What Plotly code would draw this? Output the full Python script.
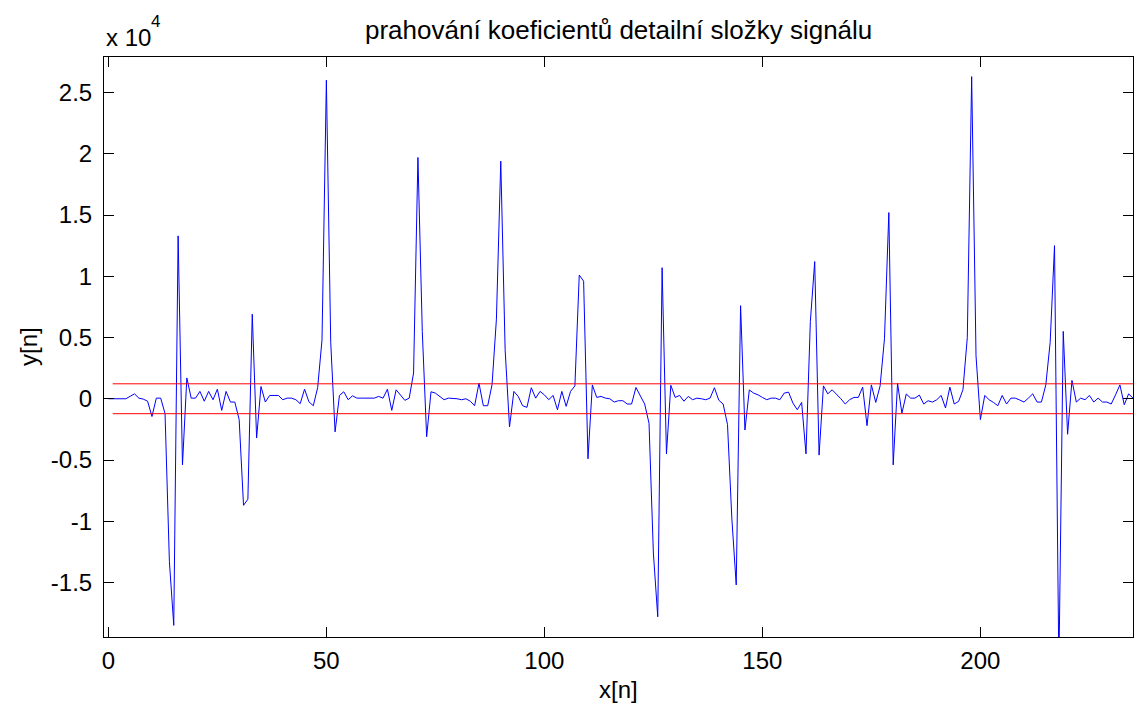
import plotly.graph_objects as go

# sample index and detail coefficient values
n_idx = list(range(0, 236))
y_vals = [
    0, 0, 0, 0, 0, 200, 400, 50, -30, -200,
    -1450, 50, 50, -1200, -13300, -18500, 13300, -5400, 1700, 50,
    50, 600, -200, 600, -80, 780, -950, 600, -270, -270,
    -1700, -8700, -8200, 6900, -3200, 1000, -270, 270, 270, 270,
    -80, 50, 50, -80, -400, 780, -250, -570, 900, 4800,
    26000, 4600, -2700, 270, 570, -80, 240, 50, 50, 50,
    50, 50, 190, 50, 780, -950, 730, 320, -130, 50,
    2100, 19700, 5500, -3100, 570, 460, 190, -80, 50, 50,
    0, -80, 0, -200, -570, 1270, -570, -570, 1150, 6500,
    19400, 4000, -2300, 600, 190, -570, -700, 900, 50, 600,
    320, -80, 270, -900, 600, -620, 600, 1050, 10100, 9600,
    -4900, 1130, 110, 190, 50, 0, -270, -160, -160, -430,
    -430, 920, 190, -430, -2000, -12600, -17800, 10700, -4500, 1100,
    110, 270, -200, 190, -80, 50, 0, -80, 50, 900,
    -120, -430, -2100, -9800, -15200, 7600, -2550, 720, 460, 320,
    110, -80, 50, 50, -80, 460, 540, -350, -900, -300,
    -4500, 6300, 11200, -4600, 1050, 400, 730, 380, 0, -430,
    -80, 110, 110, 950, -2200, 1130, -300, 1050, 4900, 15200,
    -5400, 1260, -1180, 390, 50, 50, 300, -430, -160, -270,
    -80, 270, -750, 950, -430, -220, 730, 5000, 26300, 3500,
    -1700, 270, -80, -300, -570, 270, -430, 50, 50, -100,
    -270, 50, 400, -270, -270, 1130, 4600, 12500, -22000, 5500,
    -2900, 1500, -270, 50, -80, 270, -270, 50, -270, -270,
    -430, 320, 1130, -490, 400, 50,
]
threshold = 1220
thr_x = [1, 235]

y_tickvals = [-15000, -10000, -5000, 0, 5000, 10000, 15000, 20000, 25000]
y_ticktext = ["-1.5", "-1", "-0.5", "0", "0.5", "1", "1.5", "2", "2.5"]
x_tickvals = [0, 50, 100, 150, 200]

FONT = "Liberation Sans, Arial, sans-serif"
FS = 24

fig = go.Figure()
fig.add_trace(go.Scatter(x=n_idx, y=y_vals, mode="lines",
                         line=dict(color="#0000FF", width=1), showlegend=False))
fig.add_trace(go.Scatter(x=thr_x, y=[threshold, threshold], mode="lines",
                         line=dict(color="#FF0000", width=1), showlegend=False))
fig.add_trace(go.Scatter(x=thr_x, y=[-threshold, -threshold], mode="lines",
                         line=dict(color="#FF0000", width=1), showlegend=False))

fig.update_layout(
    width=1139, height=709,
    margin=dict(l=104, r=6, t=57, b=72),
    paper_bgcolor="white", plot_bgcolor="white",
    font=dict(family=FONT, size=FS, color="black"),
    xaxis=dict(range=[-1, 235], tickvals=x_tickvals, ticks="inside", ticklen=10,
               tickcolor="black", showline=True, linecolor="black", linewidth=1,
               mirror="ticks", showgrid=False, zeroline=False,
               ticklabelstandoff=2, tickfont=dict(family=FONT, size=FS)),
    yaxis=dict(range=[-19450, 27900], tickvals=y_tickvals, ticktext=y_ticktext,
               ticks="inside", ticklen=10, tickcolor="black", showline=True,
               linecolor="black", linewidth=1, mirror="ticks", showgrid=False,
               zeroline=False, ticklabelstandoff=6,
               tickfont=dict(family=FONT, size=FS)),
)
# title
fig.add_annotation(text="prahování koeficientů detailní složky signálu",
                   xref="paper", yref="paper", x=0.5, y=1, xanchor="center",
                   yanchor="middle", yshift=27, showarrow=False,
                   font=dict(family=FONT, size=26, color="black"))
# exponent label "x 10^4"
fig.add_annotation(text="x 10", xref="paper", yref="paper",
                   x=0, y=1, xanchor="left", yanchor="middle", yshift=20,
                   showarrow=False, font=dict(family=FONT, size=FS, color="black"))
fig.add_annotation(text="4", xref="paper", yref="paper",
                   x=0, y=1, xanchor="left", yanchor="middle", xshift=45, yshift=36,
                   showarrow=False, font=dict(family=FONT, size=17, color="black"))
# axis labels
fig.add_annotation(text="x[n]", xref="paper", yref="paper", x=0.5, y=0,
                   xanchor="center", yanchor="middle", yshift=-52,
                   showarrow=False, font=dict(family=FONT, size=FS, color="black"))
fig.add_annotation(text="y[n]", xref="paper", yref="paper", x=0, y=0.5,
                   xanchor="center", yanchor="middle", xshift=-76, textangle=-90,
                   showarrow=False, font=dict(family=FONT, size=FS, color="black"))

fig.write_html("out.html",
               config={"displayModeBar": False},
               post_script="document.body.style.margin='0px';"
                           "document.body.style.overflow='hidden';")
